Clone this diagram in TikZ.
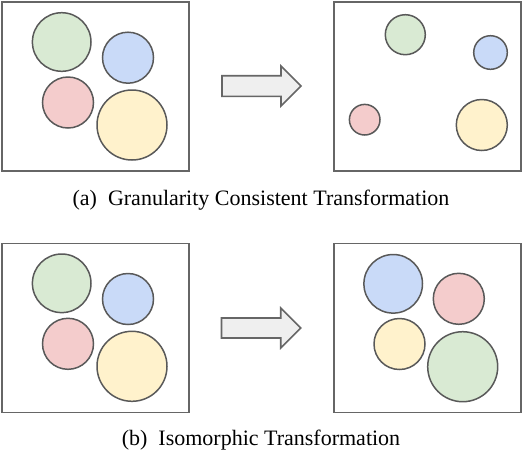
\documentclass[tikz,border=0pt]{standalone}
\usepackage{fontspec}
\setmainfont{Liberation Serif}
\usepackage{xcolor}
\usetikzlibrary{positioning}

\definecolor{ballgreen}{HTML}{D9EAD3}
\definecolor{ballblue}{HTML}{C9DAF8}
\definecolor{ballred}{HTML}{F4CCCC}
\definecolor{ballyellow}{HTML}{FFF2CC}
\definecolor{edgegray}{HTML}{595959}
\definecolor{framegray}{HTML}{666666}
\definecolor{arrowfill}{HTML}{EFEFEF}

\begin{document}
\begin{tikzpicture}[
  x=1pt, y=-1pt,
  font=\rmfamily\fontsize{22}{26}\selectfont,
  frame/.style={draw=framegray, line width=1.6pt, inner sep=0pt,
    minimum width=187pt, minimum height=169pt},
  ball/.style={circle, draw=edgegray, line width=1.5pt, inner sep=0pt},
  small/.style={ball, minimum size=51pt},
  big/.style={ball, minimum size=70pt},
  blockarrow/.style={draw=framegray, line width=1.6pt, fill=arrowfill,
    line join=miter},
  caption/.style={anchor=base, inner sep=0pt}
]
  \useasboundingbox (0,0) rectangle (524,456);

  % (a) granularity consistent
  \node[frame] (inA) at (95.5,86.5) {};
  \node[ball, minimum size=58.6pt, fill=ballgreen] (gA) at (61.7,42) {};
  \node[small, fill=ballblue] (bA) at (128,57.7) {};
  \node[small, fill=ballred] (rA) at (68,102.5) {};
  \node[big, fill=ballyellow] (yA) at (132,125) {};

  \coordinate (arA) at (222,86);
  \draw[blockarrow] (arA) ++(0,-10.3) -- ++(59,0) -- ++(0,-9.7)
    -- ++(20,20) -- ++(-20,20) -- ++(0,-9.7) -- ++(-59,0) -- cycle;

  \node[frame] (outA) at (427.5,86.5) {};
  \node[ball, minimum size=40pt, fill=ballgreen] (gA') at (405.3,34.7) {};
  \node[ball, minimum size=33.6pt, fill=ballblue] (bA') at (490.5,52.5) {};
  \node[ball, minimum size=30.6pt, fill=ballred] (rA') at (364.7,119.7) {};
  \node[ball, minimum size=51pt, fill=ballyellow] (yA') at (481.8,125) {};

  \node[caption] (capA) at (261,205)
    {(a)\enspace Granularity Consistent Transformation};

  % (b) isomorphic
  \node[frame] (inB) at (95.5,328) {};
  \node[ball, minimum size=58.6pt, fill=ballgreen] (gB) at (61.7,283.3) {};
  \node[small, fill=ballblue] (bB) at (128,299) {};
  \node[small, fill=ballred] (rB) at (68,343.8) {};
  \node[big, fill=ballyellow] (yB) at (132,366.3) {};

  \coordinate (arB) at (221.5,328);
  \draw[blockarrow] (arB) ++(0,-10) -- ++(59.2,0) -- ++(0,-10)
    -- ++(20,20) -- ++(-20,20) -- ++(0,-10) -- ++(-59.2,0) -- cycle;

  \node[frame] (outB) at (427.5,328) {};
  \node[ball, minimum size=58.6pt, fill=ballblue] (bB') at (393.2,283.8) {};
  \node[small, fill=ballred] (rB') at (458.8,298.8) {};
  \node[small, fill=ballyellow] (yB') at (399.5,344) {};
  \node[big, fill=ballgreen] (gB') at (462.7,366.7) {};

  \node[caption] (capB) at (261,445)
    {(b)\enspace Isomorphic Transformation};
\end{tikzpicture}
\end{document}
